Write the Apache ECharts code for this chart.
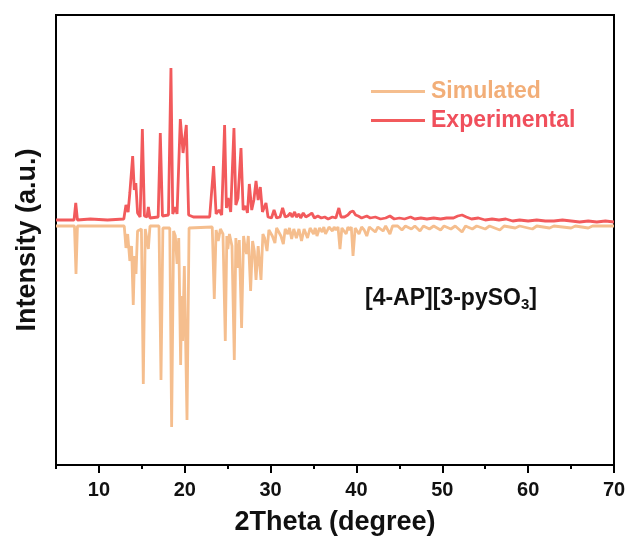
<!doctype html>
<html>
<head>
<meta charset="utf-8">
<script src="https://cdn.jsdelivr.net/npm/echarts@6/dist/echarts.min.js"></script>
<style>
  html, body { margin: 0; padding: 0; background: #fff; }
  #main { width: 632px; height: 544px; }
</style>
</head>
<body>
<div id="main"></div>
<script type="text/javascript">
// [2theta, height above baseline] (a.u.)
var expPoints = [
  [5,0],[7.1,0],[7.3,17],[7.5,0],[9,1],[11,0],
  [12.9,1],[13.15,15],[13.4,8],[13.6,27],[13.93,64],[14.12,30],[14.3,37],[14.5,7],[14.8,3],[15.06,91],[15.3,4],[15.6,3],[15.76,13],[15.95,2],
  [16.9,3],[17.15,87],[17.4,4],
  [18.1,5],[18.39,152],[18.6,6],[18.75,4],[18.9,13],[19.1,6],[19.48,101],[19.8,67],[20.18,95],[20.45,5],[21,3],
  [22.9,3],[23.36,54],[23.65,6],[24.0,10],[24.3,5],[24.64,95],[24.85,12],[25.05,22],[25.35,8],[25.73,92],[25.95,15],[26.2,22],
  [26.55,72],[26.8,10],[27.1,14],[27.3,7],[27.52,36],[27.8,10],[28.05,20],[28.3,39],[28.55,20],[28.8,33],[29.05,8],[29.2,10],
  [29.46,17],[29.7,3],[30.1,2],[30.4,10],[30.7,2],[31.1,3],[31.4,12],[31.7,3],
  [32.0,4],[32.3,7],[32.5,3],[32.8,8],[33.0,3],[33.3,6],[33.5,2],[33.8,7],[34.1,3],[34.5,5],[34.8,7],[35.1,2],[35.5,4],[35.9,2],
  [36.3,3],[36.7,1],[37.2,3],[37.6,2],[37.95,12],[38.2,3],[38.6,3],[39.0,5],[39.3,8],[39.6,9],[39.9,5],[40.2,4],[40.6,2],[41.2,4],
  [41.6,2],[42.2,3],[42.8,1],[43.4,2],[43.9,4],[44.4,1],[45.0,2],[45.6,1],[46.3,3],[46.8,1],[47.5,2],[48.2,1],[49.0,2],[49.8,1],
  [50.5,2],[51.3,2],[51.8,4],[52.3,5],[52.8,3],[53.4,1],[54.2,2],[55.0,0],[55.8,1],[56.6,0],[57.4,1],[58.2,-1],[59.0,0],[60.0,-1],
  [61.0,0],[62.0,-1],[63.0,-1],[64.0,0],[65.0,-1],[66.0,-2],[67.0,-1],[68.0,-2],[69.0,-1],[70,-2]
];
// [2theta, depth below baseline] for the simulated pattern (drawn inverted)
var simPoints = [
  [5,0],[7.15,0],[7.33,48],[7.5,0],
  [12.95,0],[13.15,22],[13.35,8],[13.6,35],[13.8,20],[14.0,79],[14.15,30],[14.32,48],[14.5,5],[14.95,3],[15.17,158],[15.4,3],[15.6,2],[15.76,23],[15.95,0],
  [17.0,0],[17.23,154],[17.45,2],
  [18.25,2],[18.47,201],[18.7,5],[18.9,10],[19.1,38],[19.3,12],[19.52,139],[19.63,70],[19.75,115],[19.95,40],[20.26,194],[20.5,2],
  [23.2,1],[23.44,73],[23.65,4],[23.9,15],[24.15,3],[24.45,8],[24.72,115],[24.9,10],[25.02,23],[25.2,8],[25.5,20],[25.77,134],
  [25.95,12],[26.15,42],[26.35,14],[26.62,102],[26.85,10],[27.0,20],[27.2,28],[27.4,10],[27.67,65],[27.9,15],[28.1,25],[28.3,54],
  [28.55,20],[28.88,54],[29.1,8],[29.3,12],[29.58,25],[29.8,4],[30.2,10],[30.5,17],[30.7,2],[31.2,10],[31.48,18],[31.7,3],
  [32.0,8],[32.2,2],[32.45,13],[32.7,3],[33.0,12],[33.3,3],[33.6,15],[33.9,3],[34.3,12],[34.6,2],[35.0,8],[35.2,2],[35.4,10],
  [35.7,2],[36.0,6],[36.2,1],[36.4,8],[36.8,1],[37.2,5],[37.4,1],[37.6,4],[37.85,1],[38.08,23],[38.3,2],[38.8,8],[39.0,1],[39.2,4],
  [39.4,1],[39.6,30],[39.85,2],[40.3,8],[40.6,1],[40.9,4],[41.2,10],[41.5,1],[42.2,6],[42.5,1],[43.1,5],[43.4,0],[43.9,8],[44.2,0],
  [44.8,0],[45.3,4],[45.7,0],[46.4,3],[46.8,0],[47.4,5],[47.8,0],[48.5,3],[49.0,0],[49.8,4],[50.2,0],[51.0,3],[51.5,0],[52.3,6],
  [52.7,0],[53.5,3],[54.0,0],[55.0,3],[55.5,0],[56.7,4],[57.2,0],[58.5,2],[59,0],[60.5,3],[61,0],[62.5,2],[63,0],[65,2],[65.5,0],
  [67,2],[67.5,0],[70,0]
];
var majorTicks = [10, 20, 30, 40, 50, 60, 70];
var minorTicks = [5, 15, 25, 35, 45, 55, 65];

var expBase = 5, simBase = -1;
var font = 'Liberation Sans, Arial, sans-serif';
var redColor = '#F25A5C', orangeColor = '#F5BE8E';

var myChart = echarts.init(document.getElementById('main'));

var option = {
  backgroundColor: '#fff',
  animation: false,
  title: {
    left: 360, top: 280,
    text: '{n|[4-AP][3-pySO}{s|3}{n|]}',
    textStyle: {
      rich: {
        n: { fontFamily: font, fontWeight: 'bold', fontSize: 23, color: '#111' },
        s: { fontFamily: font, fontWeight: 'bold', fontSize: 15, color: '#111', padding: [12, 0, 0, 0] }
      }
    }
  },
  legend: {
    orient: 'vertical',
    left: 366, top: 75,
    icon: 'rect',
    itemWidth: 54, itemHeight: 3, itemGap: 6,
    textStyle: { fontFamily: font, fontWeight: 'bold', fontSize: 23, padding: [0, 0, 0, 1] },
    data: [
      { name: 'Simulated', textStyle: { color: '#F2AE78' } },
      { name: 'Experimental', textStyle: { color: '#F04F5C' } }
    ]
  },
  grid: {
    left: 56, right: 18, top: 15, bottom: 79,
    show: true, borderColor: '#000', borderWidth: 2
  },
  xAxis: [
    {
      type: 'value', min: 5, max: 70,
      name: '2Theta (degree)', nameLocation: 'middle', nameGap: 44,
      nameTextStyle: { fontFamily: font, fontWeight: 'bold', fontSize: 27, color: '#111' },
      axisLine: { onZero: false, lineStyle: { color: '#000', width: 2 } },
      axisTick: { inside: false, customValues: majorTicks, length: 8, lineStyle: { width: 2, color: '#000' } },
      axisLabel: { customValues: majorTicks, margin: 15, fontFamily: font, fontWeight: 'bold', fontSize: 20, color: '#111' },
      splitLine: { show: false }
    },
    {
      type: 'value', min: 5, max: 70, position: 'bottom',
      axisLine: { show: false, onZero: false },
      axisTick: { inside: false, customValues: minorTicks, length: 4, lineStyle: { width: 2, color: '#000' } },
      axisLabel: { show: false },
      splitLine: { show: false }
    }
  ],
  yAxis: {
    type: 'value', min: -240, max: 210,
    name: 'Intensity (a.u.)', nameLocation: 'middle', nameGap: 15,
    nameTextStyle: { fontFamily: font, fontWeight: 'bold', fontSize: 27, color: '#111' },
    axisLine: { show: false },
    axisTick: { show: false },
    axisLabel: { show: false },
    splitLine: { show: false }
  },
  series: [
    {
      name: 'Simulated', type: 'line', symbol: 'none',
      lineStyle: { color: orangeColor, width: 2.8 },
      itemStyle: { color: orangeColor },
      data: simPoints.map(function (p) { return [p[0], simBase - p[1]]; })
    },
    {
      name: 'Experimental', type: 'line', symbol: 'none',
      lineStyle: { color: redColor, width: 2.8 },
      itemStyle: { color: redColor },
      data: expPoints.map(function (p) { return [p[0], expBase + p[1]]; })
    }
  ]
};

myChart.setOption(option);
</script>
</body>
</html>
